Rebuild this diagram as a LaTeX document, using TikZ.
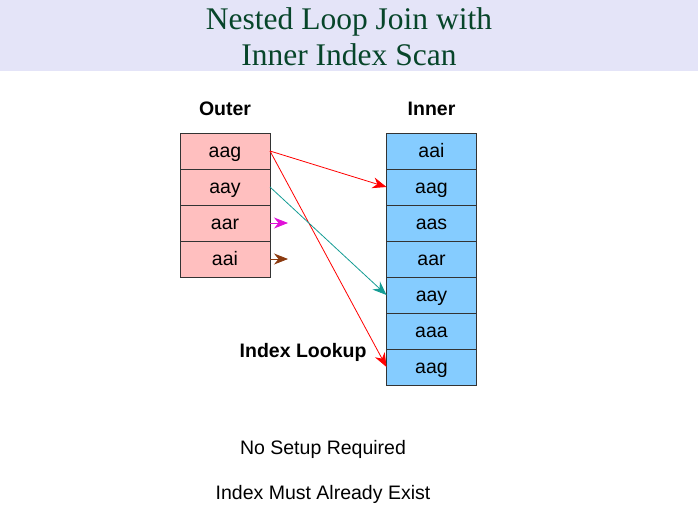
\documentclass[tikz,border=0pt]{standalone}
\usepackage{fontspec}
\setmainfont{Liberation Sans}
\newfontfamily\titlefont{Liberation Serif}
\usetikzlibrary{positioning,arrows.meta}

\definecolor{banner}{HTML}{E4E4F8}
\definecolor{titlegreen}{HTML}{07452A}
\definecolor{outerfill}{HTML}{FFBFBF}
\definecolor{innerfill}{HTML}{85CCFF}
\definecolor{tealarrow}{HTML}{149C94}
\definecolor{brownarrow}{HTML}{8B3A0F}
\definecolor{pinkarrow}{HTML}{E010D8}

\tikzset{
  cell/.style={draw=black!80, line width=0.9pt, minimum width=90pt, minimum height=36pt, inner sep=0pt, outer sep=0pt,
    text height=13pt, text depth=0pt, font=\fontsize{19.5}{22}\selectfont},
  outercell/.style={cell, fill=outerfill},
  innercell/.style={cell, fill=innerfill},
  head/.style={font=\fontsize{19.5}{22}\selectfont\bfseries},
  link/.style={-{Stealth[length=14pt,width=11pt,inset=4.5pt]}, line width=0.8pt}
}

\begin{document}
\begin{tikzpicture}[x=1pt, y=-1pt]

\useasboundingbox (0, 0) rectangle (698, 531);
\fill[banner] (0, 0) rectangle (698, 71);

\node[titlegreen, font=\fontsize{31.5}{36}\selectfont\titlefont, align=center] (title) at (349, 37) {Nested Loop Join with\\Inner Index Scan};

% outer relation
\node[outercell] (o1) at (225, 151) {aag};
\node[outercell, below=0pt of o1] (o2) {aay};
\node[outercell, below=0pt of o2] (o3) {aar};
\node[outercell, below=0pt of o3] (o4) {aai};
\node[head, above=14pt of o1] (outer) {Outer};

% inner relation
\node[innercell] (i1) at (431.5, 151) {aai};
\node[innercell, below=0pt of i1] (i2) {aag};
\node[innercell, below=0pt of i2] (i3) {aas};
\node[innercell, below=0pt of i3] (i4) {aar};
\node[innercell, below=0pt of i4] (i5) {aay};
\node[innercell, below=0pt of i5] (i6) {aaa};
\node[innercell, below=0pt of i6] (i7) {aag};
\node[head, above=14pt of i1] (inner) {Inner};

\coordinate (p3) at (288, 223);
\coordinate (p4) at (288, 259);

\draw[link, red] (o1.east) -- (i2.west);
\draw[link, red] (o1.east) -- (i7.west);
\draw[link, tealarrow] (o2.east) -- (i5.west);
\draw[link, pinkarrow] (o3.east) -- (p3);
\draw[link, brownarrow] (o4.east) -- (p4);

\node[head, anchor=east] (lookup) at (370, 352) {Index Lookup};

\node[font=\fontsize{19.5}{22}\selectfont] (setup) at (323, 449) {No Setup Required};
\node[font=\fontsize{19.5}{22}\selectfont] (exist) at (323, 494) {Index Must Already Exist};

\end{tikzpicture}
\end{document}
